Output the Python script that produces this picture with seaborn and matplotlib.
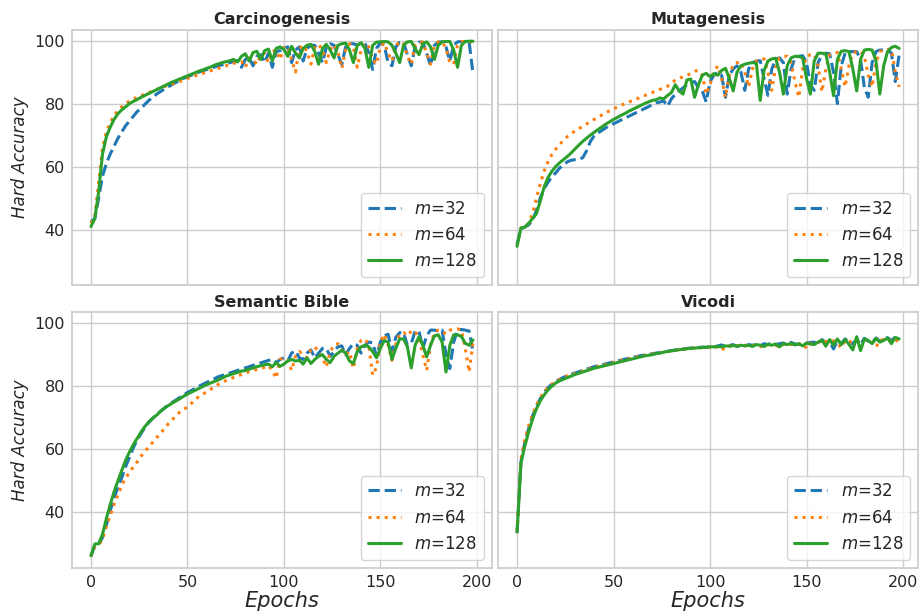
import numpy as np
import matplotlib
matplotlib.use("Agg")
import matplotlib.pyplot as plt
import seaborn as sns

# epochs sampled every 2 steps
epochs = np.arange(0, 200, 2)

labels = ["$m$=32", "$m$=64", "$m$=128"]
titles = ["Carcinogenesis", "Mutagenesis", "Semantic Bible", "Vicodi"]

# ---------------- Carcinogenesis ----------------
carc_m32 = [
    42.5, 43.5, 50.0, 57.0, 61.0, 64.0, 66.5, 69.0, 71.0, 73.0,
    74.5, 76.0, 77.5, 78.5, 79.8, 81.0, 82.0, 83.0, 83.8, 84.6,
    85.3, 86.0, 86.7, 87.3, 88.0, 88.5, 89.0, 89.5, 90.0, 90.4,
    90.8, 91.2, 91.6, 92.0, 92.3, 92.6, 93.0, 93.3, 93.6, 91.5,
    94.0, 94.5, 92.0, 95.0, 95.5, 93.0, 96.0, 91.5, 96.5, 96.8,
    97.5, 98.0, 93.0, 97.0, 98.0, 93.5, 97.5, 98.5, 98.5, 96.0,
    93.0, 98.0, 99.0, 98.5, 95.5, 92.5, 98.0, 99.0, 99.0, 98.5,
    99.2, 99.3, 96.0, 90.8, 97.5, 99.3, 98.5, 93.0, 92.0, 98.0,
    99.4, 99.5, 95.5, 92.0, 98.0, 99.5, 99.5, 96.0, 92.0, 98.5,
    99.5, 99.6, 98.0, 93.5, 98.5, 99.6, 99.7, 99.7, 99.5, 89.5,
]
carc_m64 = [
    42.0, 44.0, 55.0, 66.0, 71.0, 74.0, 76.2, 77.8, 79.0, 80.0,
    80.8, 81.5, 82.0, 82.5, 83.0, 83.5, 84.0, 84.5, 85.0, 85.4,
    85.8, 86.2, 86.6, 87.0, 87.5, 88.0, 88.4, 88.8, 89.2, 89.6,
    90.0, 90.4, 90.8, 91.2, 91.6, 92.0, 92.4, 92.8, 93.0, 93.3,
    91.5, 94.5, 94.0, 92.5, 95.5, 96.0, 93.0, 96.5, 97.0, 94.0,
    97.8, 98.0, 94.0, 90.0, 97.5, 98.5, 96.5, 92.5, 97.8, 98.8,
    97.0, 93.0, 97.0, 98.8, 96.5, 91.2, 97.0, 99.0, 98.0, 91.5,
    97.0, 99.2, 98.0, 94.0, 92.5, 98.0, 99.3, 96.0, 93.5, 98.5,
    99.5, 99.4, 95.0, 92.5, 98.5, 99.5, 99.5, 96.0, 92.5, 98.5,
    99.6, 99.6, 97.5, 93.0, 92.5, 98.5, 99.7, 99.7, 99.6, 99.6,
]
carc_m128 = [
    41.0, 43.5, 52.0, 64.0, 69.5, 72.5, 75.0, 76.8, 78.0, 79.0,
    80.0, 80.7, 81.3, 82.0, 82.6, 83.2, 83.8, 84.4, 85.0, 85.6,
    86.2, 86.8, 87.3, 87.8, 88.3, 88.8, 89.3, 89.8, 90.3, 90.7,
    91.2, 91.6, 92.2, 92.6, 93.0, 93.3, 93.6, 94.0, 93.2, 95.0,
    95.8, 93.5, 96.2, 96.6, 94.0, 96.8, 97.3, 93.5, 97.5, 98.0,
    97.2, 95.0, 98.2, 96.0, 94.5, 97.5, 98.5, 98.8, 96.5, 92.5,
    97.5, 98.8, 97.0, 94.5, 98.5, 99.0, 99.2, 97.0, 93.0, 98.5,
    99.3, 97.5, 91.5, 98.5, 99.5, 99.6, 99.7, 99.6, 98.5, 96.0,
    93.0, 98.5, 99.6, 99.7, 97.5, 95.5, 99.0, 99.6, 98.0, 94.0,
    98.5, 99.6, 99.7, 99.7, 97.0, 91.5, 98.5, 99.7, 99.8, 99.8,
]

# ---------------- Mutagenesis ----------------
muta_m32 = [
    35.5, 40.3, 40.8, 41.5, 43.0, 46.0, 50.0, 53.0, 55.0, 56.8,
    58.0, 59.5, 60.5, 61.5, 62.0, 62.2, 62.3, 62.8, 65.0, 68.0,
    69.8, 70.7, 71.5, 72.3, 73.0, 73.6, 74.2, 74.8, 75.4, 76.0,
    76.6, 77.2, 77.8, 78.4, 79.0, 79.6, 80.2, 80.5, 80.8, 79.2,
    81.5, 83.0, 84.0, 85.0, 86.0, 86.6, 87.0, 85.0, 84.0, 80.5,
    87.0, 89.0, 90.0, 89.0, 82.0, 89.0, 91.0, 92.0, 90.0, 84.2,
    91.0, 93.0, 93.5, 93.6, 88.0, 82.6, 91.0, 94.0, 94.5, 93.0,
    83.0, 91.0, 94.5, 95.0, 95.2, 93.0, 86.0, 84.2, 93.0, 95.5,
    96.0, 95.8, 90.0, 80.0, 92.0, 96.0, 96.5, 96.5, 96.5, 94.0,
    85.0, 82.0, 93.0, 96.5, 97.0, 97.0, 97.2, 96.0, 87.0, 95.5,
]
muta_m64 = [
    35.0, 40.5, 41.0, 42.0, 45.0, 50.0, 54.5, 58.5, 61.5, 63.8,
    65.5, 67.0, 68.3, 69.5, 70.4, 71.3, 72.0, 72.8, 73.5, 74.3,
    75.0, 75.7, 76.4, 77.1, 77.7, 78.3, 78.9, 79.5, 80.0, 80.5,
    81.0, 81.5, 82.0, 82.5, 83.0, 83.5, 84.0, 84.5, 85.0, 85.5,
    86.5, 87.4, 88.0, 88.5, 89.0, 89.5, 90.3, 90.5, 89.0, 83.0,
    86.0, 90.0, 92.0, 88.0, 82.0, 89.0, 92.5, 93.0, 93.2, 90.0,
    85.3, 91.0, 93.5, 94.0, 94.2, 90.0, 84.2, 91.5, 94.5, 95.0,
    95.0, 93.0, 87.0, 82.0, 91.0, 95.0, 95.5, 95.6, 92.0, 83.7,
    91.0, 95.5, 96.0, 96.2, 91.0, 85.3, 92.0, 96.0, 96.5, 96.7,
    95.0, 89.0, 85.3, 93.0, 96.5, 97.0, 97.2, 97.2, 90.0, 85.3,
]
muta_m128 = [
    34.7, 40.5, 40.8, 42.0, 43.5, 45.0, 49.0, 53.5, 56.5, 58.5,
    60.0, 61.2, 62.2, 63.2, 64.3, 65.6, 66.8, 68.0, 69.0, 70.0,
    70.9, 71.8, 72.6, 73.5, 74.2, 75.0, 75.6, 76.3, 76.9, 77.6,
    78.2, 78.8, 79.4, 80.0, 80.5, 81.0, 81.2, 81.8, 81.5, 82.6,
    83.5, 86.0, 84.0, 83.0, 87.5, 87.8, 82.0, 86.0, 89.0, 89.6,
    88.5, 89.5, 89.0, 90.5, 91.2, 88.0, 84.0, 90.0, 92.0, 92.5,
    92.8, 93.0, 92.8, 81.0, 90.5, 93.5, 94.2, 94.4, 90.0, 83.0,
    92.0, 94.5, 95.0, 95.0, 94.5, 88.0, 83.0, 93.5, 96.0, 96.0,
    95.8, 90.0, 82.5, 94.0, 96.6, 96.8, 96.5, 91.0, 84.0, 94.0,
    97.0, 97.2, 97.0, 93.5, 83.0, 92.0, 96.5, 97.8, 98.2, 97.5,
]

# ---------------- Semantic Bible ----------------
bible_m32 = [
    26.0, 29.5, 29.8, 32.0, 36.0, 40.5, 44.5, 48.0, 51.0, 54.5,
    57.5, 60.5, 63.0, 65.0, 67.0, 68.5, 69.8, 71.0, 72.0, 73.0,
    74.0, 74.8, 75.6, 76.4, 77.2, 78.0, 78.6, 79.3, 80.0, 80.6,
    81.2, 81.8, 82.4, 83.0, 83.4, 83.8, 84.2, 84.6, 85.0, 85.4,
    85.8, 86.2, 86.6, 87.0, 87.4, 87.8, 88.2, 88.5, 87.5, 88.5,
    89.0, 88.0, 90.5, 91.2, 89.0, 88.5, 90.5, 91.5, 89.0, 90.5,
    92.0, 92.0, 89.5, 91.0, 92.5, 92.8, 90.0, 92.0, 93.5, 93.0,
    90.5, 93.0, 94.0, 93.8, 89.5, 94.0, 96.0, 96.5, 91.0, 95.5,
    97.0, 97.0, 93.0, 93.5, 97.5, 97.5, 92.0, 96.0, 97.8, 97.8,
    97.5, 97.8, 90.0, 85.6, 94.0, 97.8, 98.0, 97.8, 97.5, 91.0,
]
bible_m64 = [
    26.0, 29.0, 29.5, 31.5, 35.5, 39.0, 42.5, 45.5, 48.5, 51.0,
    52.5, 54.5, 56.0, 57.8, 59.3, 60.8, 62.2, 63.6, 65.0, 66.5,
    68.0, 69.3, 70.5, 71.8, 72.7, 73.3, 74.5, 75.8, 76.7, 77.5,
    78.2, 79.0, 79.8, 80.6, 81.3, 81.8, 82.3, 82.8, 83.3, 83.7,
    84.2, 84.6, 85.0, 85.3, 85.6, 86.0, 86.5, 85.0, 82.5, 88.5,
    89.0, 88.0, 85.0, 89.5, 91.0, 90.0, 89.0, 91.5, 92.5, 91.0,
    89.0, 86.1, 91.0, 93.0, 93.5, 91.5, 90.0, 91.0, 85.6, 92.0,
    94.5, 95.0, 93.0, 83.5, 86.0, 94.0, 96.5, 93.0, 88.2, 93.5,
    96.5, 97.0, 96.0, 97.5, 97.5, 95.0, 90.0, 85.0, 93.0, 97.0,
    97.8, 97.5, 96.5, 97.8, 98.0, 98.2, 97.8, 92.0, 84.5, 94.0,
]
bible_m128 = [
    26.2, 29.9, 30.0, 33.0, 38.0, 42.5, 46.5, 50.0, 53.3, 56.5,
    59.2, 61.5, 63.5, 65.5, 67.2, 68.7, 69.8, 70.8, 72.0, 73.0,
    73.8, 74.6, 75.3, 76.0, 76.8, 77.5, 78.1, 78.7, 79.3, 79.9,
    80.5, 81.0, 81.5, 82.0, 82.6, 83.2, 83.6, 84.0, 84.4, 84.8,
    85.0, 85.4, 85.8, 86.2, 86.5, 86.8, 87.0, 86.2, 87.5, 86.3,
    87.0, 88.0, 88.5, 88.0, 88.2, 87.0, 89.0, 87.2, 88.5, 89.5,
    90.0, 88.5, 87.5, 89.5, 90.5, 91.4, 90.5, 88.0, 87.2, 91.0,
    92.5, 93.0, 92.5, 91.0, 89.0, 92.0, 94.5, 94.0, 88.5, 92.0,
    95.0, 95.0, 92.5, 85.8, 93.0, 95.7, 93.0, 89.3, 93.0, 96.0,
    96.3, 94.0, 84.5, 93.0, 96.3, 96.3, 95.8, 93.6, 93.0, 94.7,
]

# ---------------- Vicodi ----------------
vicodi_m32 = [
    33.5, 56.0, 62.0, 66.5, 70.5, 73.5, 76.0, 78.0, 79.5, 80.6,
    81.5, 82.2, 82.8, 83.3, 83.8, 84.2, 84.6, 85.0, 85.4, 85.8,
    86.2, 86.5, 86.8, 87.1, 87.4, 87.7, 88.0, 88.3, 88.6, 88.9,
    89.2, 89.4, 89.7, 89.9, 90.1, 90.3, 90.5, 90.7, 90.9, 91.1,
    91.3, 91.5, 91.7, 91.8, 92.0, 92.1, 92.2, 92.3, 92.4, 92.3,
    92.6, 92.4, 92.8, 93.1, 92.5, 92.9, 93.2, 92.6, 93.0, 92.8,
    93.2, 93.0, 93.3, 92.8, 93.5, 93.2, 93.8, 93.2, 93.5, 93.7,
    93.2, 93.9, 93.4, 93.2, 93.8, 93.6, 93.9, 94.0, 93.3, 94.8,
    93.8, 94.2, 91.8, 94.5, 93.5, 95.0, 94.0, 93.5, 94.8, 93.2,
    95.2, 94.3, 93.8, 95.3, 94.2, 95.0, 95.4, 94.5, 95.6, 94.8,
]
vicodi_m64 = [
    34.0, 57.0, 63.0, 67.5, 71.0, 74.0, 76.3, 78.2, 79.6, 80.6,
    81.4, 82.1, 82.7, 83.2, 83.6, 84.0, 84.4, 84.8, 85.2, 85.6,
    86.0, 86.3, 86.6, 86.9, 87.2, 87.5, 87.8, 88.1, 88.4, 88.7,
    89.0, 89.3, 89.5, 89.8, 90.0, 90.2, 90.4, 90.6, 90.8, 91.0,
    91.2, 91.4, 91.5, 91.7, 91.8, 92.0, 92.1, 92.2, 92.2, 92.3,
    92.4, 92.5, 92.4, 91.3, 92.6, 92.8, 92.5, 92.9, 92.7, 93.0,
    92.6, 92.9, 93.0, 92.5, 93.2, 93.1, 93.3, 93.0, 92.4, 93.3,
    93.5, 93.2, 93.6, 93.4, 93.6, 92.0, 93.5, 93.8, 94.0, 93.5,
    94.2, 93.8, 94.4, 93.6, 92.2, 94.5, 94.3, 93.8, 94.6, 94.2,
    94.8, 94.5, 94.0, 92.4, 94.6, 94.8, 94.2, 94.8, 95.0, 93.8,
]
vicodi_m128 = [
    33.7, 55.5, 61.0, 65.5, 69.5, 72.8, 75.3, 77.2, 78.8, 80.0,
    81.0, 81.7, 82.2, 82.7, 83.2, 83.7, 84.1, 84.5, 84.9, 85.3,
    85.7, 86.0, 86.3, 86.6, 86.9, 87.2, 87.5, 87.8, 88.1, 88.4,
    88.7, 89.0, 89.3, 89.6, 89.8, 90.0, 90.3, 90.5, 90.8, 91.0,
    91.2, 91.4, 91.6, 91.7, 91.9, 92.0, 92.1, 92.2, 92.3, 92.4,
    92.5, 92.5, 92.6, 92.5, 92.8, 92.7, 92.9, 92.7, 93.0, 92.8,
    93.0, 92.6, 93.2, 93.0, 92.6, 93.3, 93.0, 93.4, 92.5, 93.5,
    93.2, 93.6, 93.1, 93.5, 92.8, 93.7, 93.4, 93.2, 94.0, 94.6,
    92.7, 94.8, 93.0, 95.0, 93.2, 94.8, 93.3, 91.5, 95.7, 91.3,
    95.0, 94.5, 93.5, 95.2, 94.0, 94.5, 95.3, 93.5, 95.5, 95.0,
]

datasets = [
    (carc_m32, carc_m64, carc_m128),
    (muta_m32, muta_m64, muta_m128),
    (bible_m32, bible_m64, bible_m128),
    (vicodi_m32, vicodi_m64, vicodi_m128),
]

sns.set_theme(style="whitegrid")
plt.rcParams["font.family"] = ["DejaVu Sans"]
colors = sns.color_palette("tab10", 3)
styles = ["--", ":", "-"]

fig, axes = plt.subplots(2, 2, figsize=(9.21, 6.16), dpi=100, sharex=True, sharey=True)
fig.subplots_adjust(left=0.078, right=0.997, top=0.952, bottom=0.078,
                    wspace=0.014, hspace=0.105)

for ax, title, series in zip(axes.flat, titles, datasets):
    for vals, lab, col, ls in zip(series, labels, colors, styles):
        sns.lineplot(x=epochs, y=vals, ax=ax, color=col, linestyle=ls,
                     linewidth=2.2, label=lab)
    ax.set_title(title, fontsize=11.5, fontweight="bold", pad=4)
    ax.legend(loc="lower right", fontsize=12)
    ax.set_xlabel("")
    ax.set_ylabel("")
    ax.tick_params(labelsize=11.5, length=0, pad=5)

for ax in axes[:, 0]:
    ax.set_ylabel("Hard Accuracy", fontsize=12, fontstyle="italic")
for ax in axes[1, :]:
    ax.set_xlabel("Epochs", fontsize=15, fontstyle="italic", labelpad=1)

axes[0, 0].set_xticks([0, 50, 100, 150, 200])
axes[0, 0].set_yticks([40, 60, 80, 100])

fig.savefig("out.png", dpi=100)
